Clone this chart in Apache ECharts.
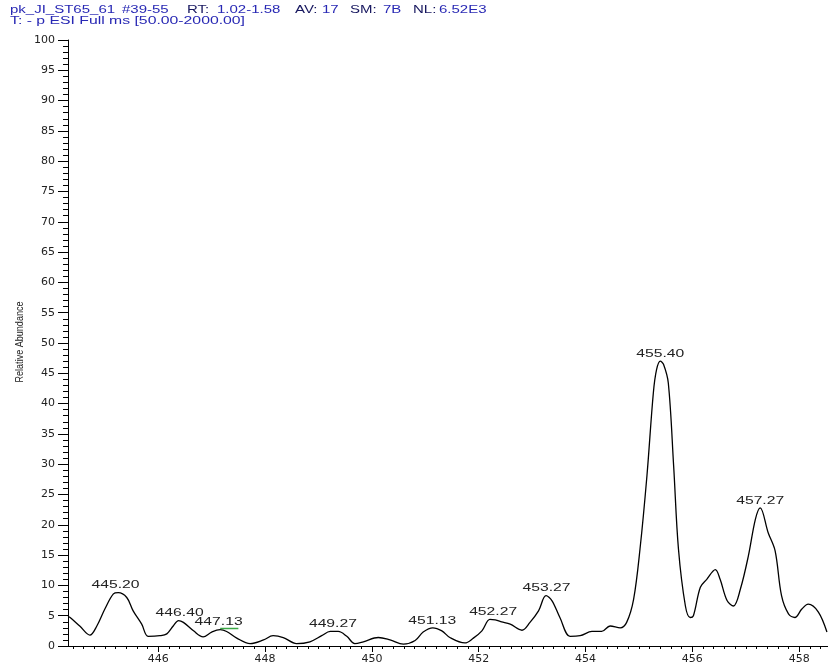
<!DOCTYPE html>
<html><head><meta charset="utf-8">
<script src="https://cdn.jsdelivr.net/npm/echarts@6/dist/echarts.min.js"></script>
<style>html,body{margin:0;padding:0;background:#fff}#c{width:828px;height:665px}</style>
</head><body><div id="c"></div>
<script>
// Header tokens and colour roles (k = key, v = value)
const headerLine1 = ['pk_JI_ST65_61', '#39-55', 'RT:', '1.02-1.58', 'AV:', '17', 'SM:', '7B', 'NL:', '6.52E3'];
const headerLine1Roles = ['v', 'v', 'k', 'v', 'k', 'v', 'k', 'v', 'k', 'v'];
const headerLine2 = 'T: - p ESI Full ms [50.00-2000.00]';
const yAxisTitle = 'Relative Abundance';

const mz = [444.31,444.35,444.53,444.72,444.85,445.00,445.16,445.25,445.41,445.53,445.69,445.81,
  446.03,446.16,446.28,446.38,446.47,446.66,446.84,447.00,447.16,447.28,447.47,447.72,447.97,
  448.15,448.34,448.59,448.84,449.06,449.22,449.37,449.53,449.68,449.84,450.12,450.34,450.59,
  450.81,450.96,451.14,451.31,451.46,451.74,451.90,452.06,452.21,452.31,452.43,452.59,452.81,
  452.96,453.12,453.26,453.37,453.52,453.71,453.90,454.12,454.30,454.46,454.65,454.77,454.90,
  455.02,455.15,455.27,455.33,455.40,455.46,455.55,455.65,455.74,455.87,455.96,456.02,456.15,
  456.27,456.43,456.52,456.65,456.77,456.90,457.05,457.18,457.27,457.42,457.55,457.67,457.80,
  457.92,458.05,458.17,458.36,458.52];
const abundance = [4.9,4.7,3.3,1.8,3.3,6.1,8.6,8.8,8.0,5.8,3.6,1.6,
  1.7,2.0,3.3,4.2,3.9,2.5,1.5,2.3,2.7,2.4,1.3,0.4,1.0,
  1.7,1.4,0.4,0.7,1.7,2.4,2.4,1.6,0.4,0.7,1.4,1.0,0.3,
  0.9,2.3,3.0,2.5,1.4,0.5,1.3,2.5,4.4,4.3,4.0,3.6,2.6,
  3.9,5.8,8.3,7.5,4.7,1.6,1.7,2.4,2.4,3.3,3.0,3.9,7.7,
  16.0,28.1,41.8,45.6,47.0,46.5,43.4,29.7,16.0,6.6,4.7,5.0,9.7,
  11.0,12.6,11.0,7.5,6.6,9.4,14.9,20.9,22.8,18.7,15.7,8.3,5.3,
  4.7,6.1,6.9,5.6,2.3];

const peakMz = [445.20, 446.40, 447.13, 449.27, 451.13, 452.27, 453.27, 455.40, 457.27];
const peakAbundance = [8.8, 4.2, 2.7, 2.4, 3.0, 4.4, 8.3, 47.0, 22.8];
const peakLabels = ['445.20','446.40','447.13','449.27','451.13','452.27','453.27','455.40','457.27'];

const greenMarkMz = [447.16, 447.50];
const greenMarkY = [2.9, 2.9];

const xTickLabels = [446, 448, 450, 452, 454, 456, 458];
const xMin = 444.31, xMax = 458.54;

// ---- layout / style (not data) ----
const line1Lefts = [10, 122, 187, 217, 295, 322, 350, 383, 413, 439];
const headerScale = 1.5;
const blue = '#2828b4', navy = '#16165e';
const smallFont = '10px "Liberation Sans", Arial, sans-serif';
const tickFont = '"DejaVu Sans", sans-serif';

const mctx = document.createElement('canvas').getContext('2d');
function measure(t, f) { mctx.font = f; return mctx.measureText(t).width; }

const minorTicks = [];
for (let i = 0; i <= 70; i++) { const v = Math.round((444.4 + i * 0.2) * 10) / 10; if (v < xMax) minorTicks.push(v); }

const graphics = [];
headerLine1.forEach((t, i) => {
  graphics.push({ type: 'text', x: line1Lefts[i], y: 10, scaleX: headerScale,
    style: { text: t, font: smallFont, fill: headerLine1Roles[i] === 'k' ? navy : blue, align: 'left', verticalAlign: 'middle' } });
});
graphics.push({ type: 'text', x: 10, y: 21, scaleX: 235 / measure(headerLine2, smallFont),
  style: { text: headerLine2, font: smallFont, fill: blue, align: 'left', verticalAlign: 'middle' } });
const titleFont = '11px "Liberation Sans", Arial, sans-serif';
graphics.push({ type: 'text', x: 20, y: 342, rotation: Math.PI / 2, scaleX: 81 / measure(yAxisTitle, titleFont),
  style: { text: yAxisTitle, font: titleFont, fill: '#222', align: 'center', verticalAlign: 'middle' } });

const chart = echarts.init(document.getElementById('c'));
chart.setOption({
  animation: false,
  backgroundColor: '#fff',
  grid: { left: 68, right: 0, top: 40, bottom: 18, containLabel: false },
  xAxis: [{
    type: 'value', min: xMin, max: xMax,
    axisLine: { show: true, lineStyle: { color: '#000', width: 1 } },
    axisTick: { show: true, length: 6, customValues: xTickLabels, lineStyle: { color: '#000' } },
    axisLabel: { customValues: xTickLabels, fontSize: 11, color: '#222', fontFamily: tickFont, margin: 8 },
    splitLine: { show: false }
  }, {
    type: 'value', min: xMin, max: xMax, position: 'bottom',
    axisLine: { show: false },
    axisTick: { show: true, length: 3, customValues: minorTicks, lineStyle: { color: '#000' } },
    axisLabel: { show: false },
    splitLine: { show: false }
  }],
  yAxis: {
    type: 'value', min: 0, max: 100, interval: 5,
    axisLine: { show: true, lineStyle: { color: '#000', width: 1 } },
    axisTick: { show: true, length: 10, lineStyle: { color: '#000' } },
    minorTick: { show: true, splitNumber: 5, length: 5, lineStyle: { color: '#000' } },
    axisLabel: { fontSize: 11, color: '#222', fontFamily: tickFont, margin: 13 },
    splitLine: { show: false }
  },
  series: [{
    type: 'line', xAxisIndex: 0,
    data: mz.map((x, i) => [x, abundance[i]]),
    showSymbol: false, smooth: 0.35,
    lineStyle: { color: '#000', width: 1.3 },
    clip: true
  }, {
    type: 'line', xAxisIndex: 0,
    data: greenMarkMz.map((x, i) => [x, greenMarkY[i]]),
    showSymbol: false,
    lineStyle: { color: '#3aa845', width: 1.5 }
  }],
  graphic: graphics
});

// Peak labels placed through the chart's own scales
const peakFont = '10px "Liberation Sans", Arial, sans-serif';
const peakScale = 48 / measure('455.40', peakFont);
const peakGraphics = peakMz.map((x, i) => {
  const p = chart.convertToPixel({ xAxisIndex: 0, yAxisIndex: 0 }, [x, peakAbundance[i]]);
  return { type: 'text', x: p[0], y: p[1] - 2, scaleX: peakScale,
    style: { text: peakLabels[i], font: peakFont, fill: '#222', align: 'center', verticalAlign: 'bottom' } };
});
chart.setOption({ graphic: graphics.concat(peakGraphics) });
</script>
</body></html>
